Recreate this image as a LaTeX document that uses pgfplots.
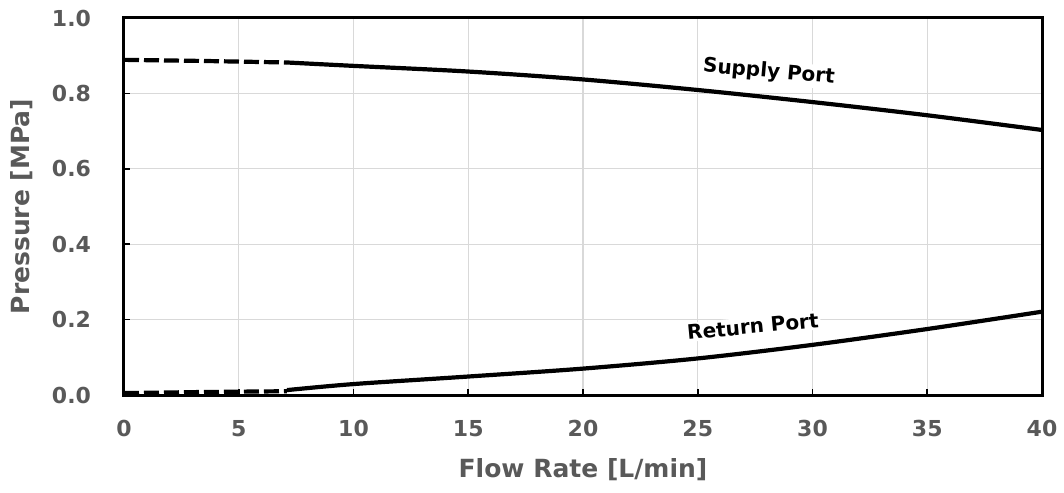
\documentclass[border=0pt]{standalone}
\usepackage{fontspec}
\setmainfont{DejaVu Sans}
\usepackage{pgfplots}
\pgfplotsset{compat=1.18}
\definecolor{tickgray}{HTML}{595959}
\definecolor{gridgray}{HTML}{D9D9D9}
\begin{document}
\begin{tikzpicture}
\begin{axis}[
  name=ax,
  scale only axis,
  width=459pt, height=188.5pt,
  xmin=0, xmax=40, ymin=0, ymax=1.0,
  xtick={0,5,...,40},
  ytick={0,0.2,0.4,0.6,0.8,1.0},
  yticklabel style={/pgf/number format/fixed,/pgf/number format/fixed zerofill,/pgf/number format/precision=1},
  /pgf/number format/assume math mode=true,
  tick label style={font=\fontsize{11}{13}\selectfont\bfseries, text=tickgray},
  xticklabel style={yshift=-9pt},
  yticklabel style={xshift=-13pt},
  tick pos=left,
  tick align=inside,
  major tick length=3pt,
  tick style={black, line width=0.8pt},
  grid=major,
  grid style={gridgray, line width=0.6pt},
  axis line style={black, line width=1.5pt},
  xlabel={Flow Rate [L/min]},
  ylabel={Pressure [MPa]},
  label style={font=\fontsize{12.5}{15}\selectfont\bfseries, text=tickgray},
  xlabel style={at={(axis description cs:0.5,-0.199)}, anchor=center},
  ylabel style={at={(axis description cs:-0.111,0.5)}, anchor=center},
  clip=false,
]
\node[fill=white, inner sep=1pt, rotate=-5, font=\fontsize{10}{12}\selectfont\bfseries] at (axis cs:28.1,0.856) {Supply Port};
\node[fill=white, inner sep=1pt, rotate=5.5, font=\fontsize{10}{12}\selectfont\bfseries] at (axis cs:27.4,0.182) {Return Port};
\addplot[black, line width=2.1pt, dash pattern=on 7.5pt off 2.5pt] coordinates {(0,0.889) (3.5,0.886) (7.1,0.882)};
\addplot[black, line width=2.1pt, smooth] coordinates {(7.1,0.882) (10,0.873) (15,0.858) (20,0.837) (25,0.809) (30,0.777) (35,0.742) (40,0.703)};
\addplot[black, line width=2.1pt, dash pattern=on 7.5pt off 2.5pt] coordinates {(0,0.005) (3.5,0.008) (7.1,0.010)};
\addplot[black, line width=2.1pt, smooth] coordinates {(7.1,0.013) (10,0.029) (15,0.049) (20,0.070) (25,0.097) (30,0.133) (35,0.175) (40,0.221)};
\end{axis}
\pgfresetboundingbox
\path ([shift={(-62pt,-48.5pt)}]ax.south west) rectangle ([shift={(11pt,9pt)}]ax.north east);
\end{tikzpicture}
\end{document}
